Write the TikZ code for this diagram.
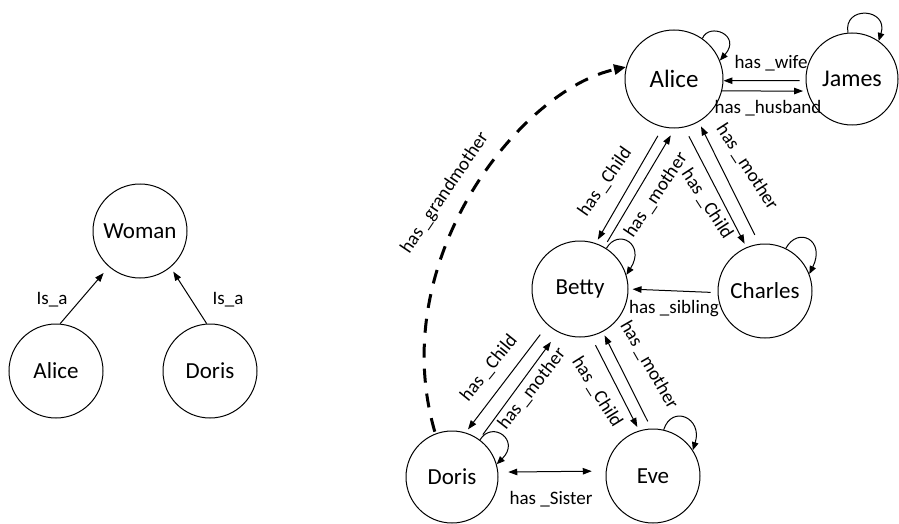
\documentclass[tikz,border=0pt]{standalone}
\usepackage{fontspec}
\setmainfont{Carlito}
\usetikzlibrary{arrows.meta}
\begin{document}
\begin{tikzpicture}[x=1pt,y=-1pt,
  ent/.style={draw, circle, line width=1pt, inner sep=0pt, minimum size=94pt,
              font=\fontsize{23}{26}\selectfont},
  rel/.style={line width=1pt, -{Triangle[length=9pt,width=6.5pt]},
              shorten <=6pt, shorten >=4pt},
  selfrel/.style={line width=1pt, -{Triangle[length=8pt,width=6.5pt]}},
  lbl/.style={inner sep=0pt, font=\fontsize{19}{21}\selectfont},
  kin/.style={line width=3pt, dash pattern=on 14pt off 11pt,
              -{Triangle[length=12pt,width=10pt]}, shorten <=2pt},
]
\useasboundingbox (0,0) rectangle (899,524);

% ---------- ontology: is_a hierarchy ----------
\node[ent] (woman) at (140,231) {Woman};
\node[ent] (alice0) at (56,371) {Alice};
\node[ent] (doris0) at (210,371) {Doris};

\draw[rel, shorten <=0pt, shorten >=8pt] (alice0.85) -- (woman.229);
\draw[rel, shorten <=0pt, shorten >=5pt] (doris0.94) -- (woman.310);
\node[lbl] (isa1) at (52,300) {Is\_a};
\node[lbl] (isa2) at (228,300) {Is\_a};

% ---------- family graph ----------
\node[ent, minimum size=98pt, font=\fontsize{25}{28}\selectfont] (A) at (674,79) {Alice};
\node[ent, minimum size=92pt, font=\fontsize{24}{27}\selectfont] (J) at (852,79) {James};
\node[ent, minimum size=96pt] (B) at (580,289) {Betty};
\node[ent] (C) at (765,291) {Charles};
\node[ent, minimum size=92pt] (D) at (452,477) {Doris};
\node[ent] (E) at (653,476) {Eve};

% self relations
\draw[selfrel] (A.55) .. controls (709,22) and (742,35) .. (A.22);
\draw[selfrel] (J.95) .. controls (843,5) and (889,8) .. (J.55);
\draw[selfrel] (B.57) .. controls (618,228) and (646,244) .. (B.17);
\draw[selfrel] (C.64) .. controls (798,226) and (826,240) .. (C.21);
\draw[selfrel] (D.53) .. controls (492,420) and (521,440) .. (D.16);
\draw[selfrel] (E.77) .. controls (672,404) and (703,418) .. (E.33);

% Alice -- James
\draw[rel, shorten <=6pt, shorten >=0pt] (J.182) -- (A.-2);
\draw[rel, shorten <=0pt, shorten >=4pt] (A.-14) -- (J.195);
\node[lbl] (lwife) at (771,63) {has \_wife};
\node[lbl] (lhusband) at (768,108) {has \_husband};

% Alice -- Betty
\draw[rel, shorten <=10pt] (A.257) -- (B.71);
\draw[rel, shorten >=8pt] (B.60) -- (A.271);
\node[lbl, rotate=55] (lab1) at (605,182) {has \_Child};
\node[lbl, rotate=56] (lab2) at (656,195) {has \_mother};

% Alice -- Charles
\draw[rel, shorten <=10pt] (A.282) -- (C.113);
\draw[rel, shorten <=10pt, shorten >=5pt] (C.97) -- (A.300);
\node[lbl, rotate=-57] (lac1) at (707,204) {has \_Child};
\node[lbl, rotate=-57] (lac2) at (747,167) {has \_mother};

% Charles -- Betty
\draw[rel, shorten <=7pt] (C.182) -- (B.0);
\node[lbl] (lsib) at (674,309) {has \_sibling};

% Betty -- Doris
\draw[rel, shorten <=12pt] (B.228) -- (D.73);
\draw[rel, shorten >=12pt] (D.54) -- (B.243);
\node[lbl, rotate=51] (lbd1) at (489,368) {has \_Child};
\node[lbl, rotate=52] (lbd2) at (532,389) {has \_mother};

% Betty -- Eve
\draw[rel, shorten <=10pt] (B.283) -- (E.107);
\draw[rel, shorten <=8pt, shorten >=4pt] (E.92) -- (B.298);
\node[lbl, rotate=-58] (lbe1) at (597,392) {has \_Child};
\node[lbl, rotate=-60] (lbe2) at (649,365) {has \_mother};

% Doris -- Eve
\draw[rel, {Triangle[length=9pt,width=6.5pt]}-{Triangle[length=9pt,width=6.5pt]},
      shorten <=10pt, shorten >=14pt] (D.6) -- (E.174);
\node[lbl] (lsis) at (551,499) {has \_Sister};

% inferred relation
\draw[kin] (D.111) .. controls (385,260) and (520,90) .. (A.166);
\node[lbl, rotate=56] (lgm) at (445,193) {has \_grandmother};

\end{tikzpicture}
\end{document}
